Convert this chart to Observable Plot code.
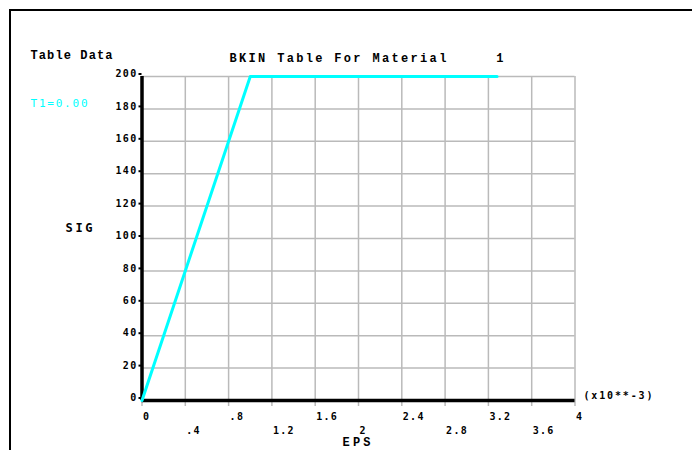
<!DOCTYPE html>
<html>
<head>
<meta charset="utf-8">
<script src="https://cdn.jsdelivr.net/npm/d3@7"></script>
<script src="https://cdn.jsdelivr.net/npm/@observablehq/plot@0.6"></script>
<style>
  html, body { margin: 0; padding: 0; overflow: hidden; background: white; width: 692px; height: 450px; }
  #wrap { position: relative; width: 692px; height: 450px; overflow: hidden; }
  #border { position: absolute; left: 9px; top: 9px; width: 760px; height: 520px; border-left: 2px solid black; border-top: 2px solid black; pointer-events: none; }
  #chart { position: absolute; left: 0; top: 0; }
</style>
</head>
<body>
<div id="wrap">
  <div id="chart"></div>
  <div id="border"></div>
</div>
<script>
// ---- data ----
const eps = [0, 1.0, 3.28];          // EPS (x10**-3)
const sig = [0, 200, 200];           // SIG
const xTicks = [0, 0.4, 0.8, 1.2, 1.6, 2, 2.4, 2.8, 3.2, 3.6, 4];
const xTickLabels = ["0", ".4", ".8", "1.2", "1.6", "2", "2.4", "2.8", "3.2", "3.6", "4"];
const yTicks = [0, 20, 40, 60, 80, 100, 120, 140, 160, 180, 200];
const yTickLabels = ["0", "20", "40", "60", "80", "100", "120", "140", "160", "180", "200"];
const titleText = "BKIN Table For Material     1";
const tableLabel = "Table Data";
const tempLabel = "T1=0.00";
const yLabel = "SIG";
const xLabel = "EPS";
const xUnit = "(x10**-3)";

const curve = eps.map((e, i) => ({eps: e, sig: sig[i]}));
const xFmt = d => xTickLabels[xTicks.indexOf(d)];
const yFmt = d => yTickLabels[yTicks.indexOf(d)];
const xEven = xTicks.filter((d, i) => i % 2 === 0);
const xOdd = xTicks.filter((d, i) => i % 2 === 1);

const mono = "'DejaVu Sans Mono', monospace";
const lmono = "'Liberation Mono', 'DejaVu Sans Mono', monospace";
const grid = "#bababa";

const chart = Plot.plot({
  width: 692,
  height: 450,
  marginLeft: 141.5,
  marginRight: 117.5,
  marginTop: 76,
  marginBottom: 50,
  style: {background: "white", overflow: "visible", fontFamily: mono},
  x: {domain: [0, 4], label: null},
  y: {domain: [0, 200], label: null},
  marks: [
    Plot.gridX(xTicks, {stroke: grid, strokeOpacity: 1, strokeWidth: 1.5}),
    Plot.gridY(yTicks, {stroke: grid, strokeOpacity: 1, strokeWidth: 1.5}),
    Plot.axisX({ticks: xTicks, tickSize: 6, stroke: grid, strokeWidth: 1.5, tickFormat: () => "", label: null}),
    Plot.axisX({ticks: xEven, tickSize: 0, tickPadding: 12, tickFormat: xFmt, textAnchor: "start", dx: 1, label: null,
      fontSize: 10, fontWeight: "bold", fill: "black"}),
    Plot.axisX({ticks: xOdd, tickSize: 0, tickPadding: 26, tickFormat: xFmt, textAnchor: "start", dx: 1, label: null,
      fontSize: 10, fontWeight: "bold", fill: "black"}),
    Plot.axisY({ticks: yTicks, tickSize: 3, tickPadding: 1.5, stroke: "black", strokeWidth: 2, tickFormat: yFmt, label: null,
      fontSize: 10, fontWeight: "bold", fill: "black", dy: -2.5}),
    Plot.ruleX([0], {stroke: "black", strokeWidth: 3.5}),
    Plot.ruleY([0], {stroke: "black", strokeWidth: 3.5}),
    Plot.line(curve, {x: "eps", y: "sig", stroke: "#00ffff", strokeWidth: 3}),
    Plot.text([tableLabel], {frameAnchor: "top-left", textAnchor: "start", lineAnchor: "middle", dx: -111.5, dy: -21,
      fontFamily: lmono, fontSize: 12, fontWeight: "bold", fill: "black"}),
    Plot.text([titleText], {frameAnchor: "top-left", textAnchor: "start", lineAnchor: "middle", dx: 87.5, dy: -18,
      fontFamily: lmono, fontSize: 12, fontWeight: "bold", fill: "black"}),
    Plot.text([tempLabel], {frameAnchor: "top-left", textAnchor: "start", lineAnchor: "middle", dx: -111.5, dy: 27,
      fontFamily: mono, fontSize: 11, fill: "#00ffff"}),
    Plot.text([yLabel], {frameAnchor: "top-left", textAnchor: "start", lineAnchor: "middle", dx: -76.5, dy: 152,
      fontFamily: mono, fontSize: 12, fontWeight: "bold", fill: "black"}),
    Plot.text([xLabel], {frameAnchor: "top-left", textAnchor: "start", lineAnchor: "middle", dx: 200.5, dy: 366,
      fontFamily: lmono, fontSize: 12, fontWeight: "bold", fill: "black"}),
    Plot.text([xUnit], {frameAnchor: "top-left", textAnchor: "start", lineAnchor: "middle", dx: 441.5, dy: 319,
      fontFamily: mono, fontSize: 10, fontWeight: "bold", fill: "black"})
  ]
});

document.getElementById("chart").appendChild(chart);

// spread the label texts to the widths of the bitmap font in the reference
const widths = new Map([[titleText, 274], [tableLabel, 82], [tempLabel, 57], [yLabel, 27], [xLabel, 28], [xUnit, 69]]);
d3.select(chart).selectAll("text").each(function() {
  const t = (this.textContent || "");
  if (widths.has(t)) {
    d3.select(this).attr("textLength", widths.get(t)).attr("lengthAdjust", "spacing");
  } else {
    d3.select(this).style("letter-spacing", "1.3px");
  }
});
</script>
</body>
</html>
